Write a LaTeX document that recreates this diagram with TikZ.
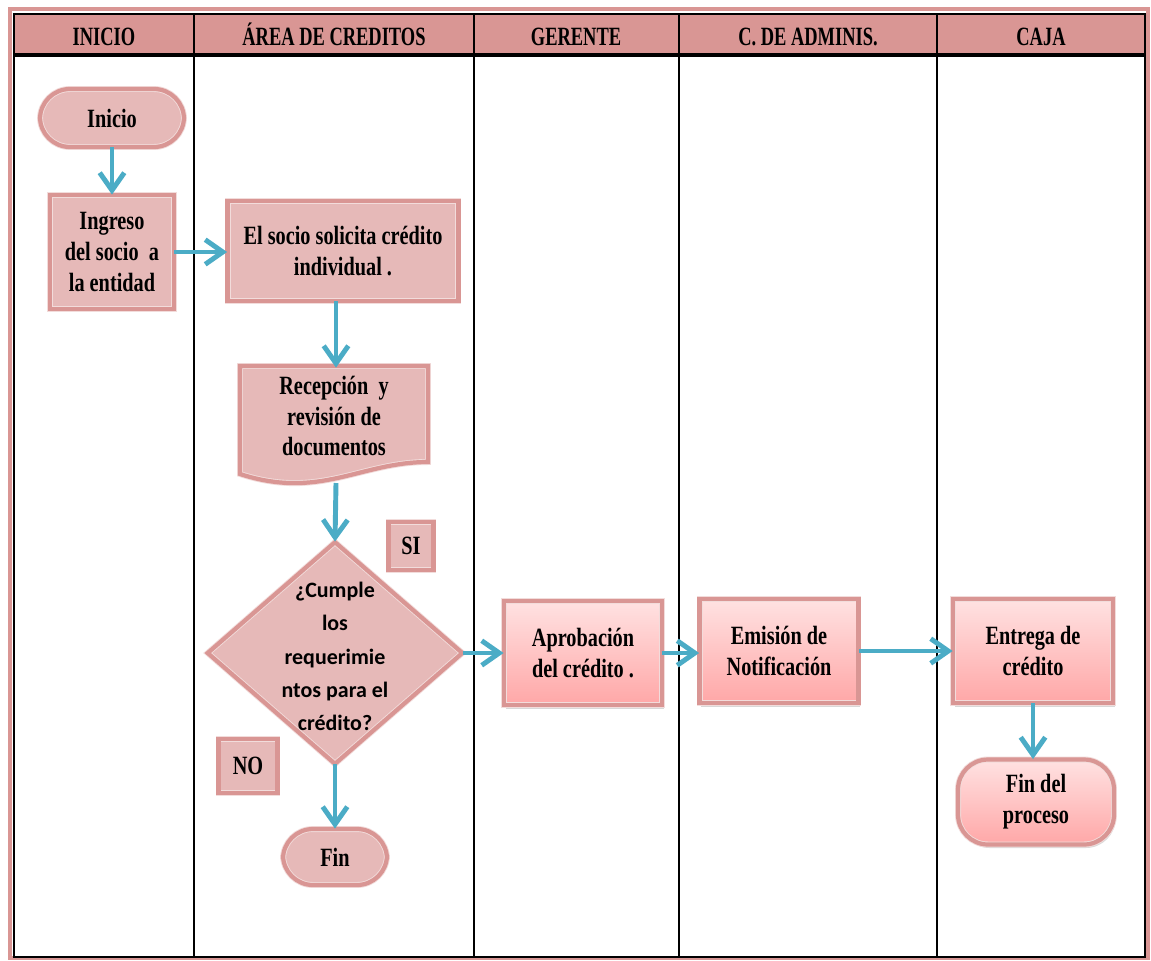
\documentclass[tikz,border=0pt]{standalone}
\usepackage{fontspec}
\setmainfont{Liberation Serif}[FakeStretch=0.77]
\newfontfamily\cabfont{Liberation Serif}[FakeStretch=0.7]
\newfontfamily\calibri{Carlito}
\usetikzlibrary{arrows.meta,shapes.geometric,shadows}

\definecolor{cabecera}{HTML}{D99694}
\definecolor{borde}{HTML}{D99694}
\definecolor{rosa}{HTML}{E6B9B8}
\definecolor{rosaclaro}{HTML}{F2DCDB}
\definecolor{gradsup}{HTML}{FFE2E2}
\definecolor{gradinf}{HTML}{FFA7A7}
\definecolor{flecha}{HTML}{4BACC6}

\tikzset{
  titulo/.style={anchor=base, font=\cabfont\bfseries\fontsize{15}{17}\selectfont},
  caja/.style={rectangle, fill=rosa, draw=rosaclaro, double=borde,
    double distance=2.4pt, line width=0.5pt, align=center, inner sep=1pt,
    font=\bfseries\fontsize{15}{17.6}\selectfont},
  terminal/.style={caja, rounded corners=0.6cm},
  cajagrad/.style={caja, top color=gradsup, bottom color=gradinf,
    drop shadow={opacity=0.3, shadow xshift=1pt, shadow yshift=-2pt}},
  flujo/.style={draw=flecha, line width=2.8pt,
    -{Straight Barb[length=10pt,width=14pt]}}
}

\begin{document}
\begin{tikzpicture}[x=0.02cm, y=-0.02cm]
  \useasboundingbox (0,0) rectangle (1151,960);
  \fill[white] (0,0) rectangle (1151,960);

  % marco y carriles
  \draw[cabecera, line width=2pt] (10,9) rectangle (1148,958);
  \fill[cabecera] (14,14) rectangle (1145,55);
  \draw[line width=1.6pt] (14,14) rectangle (1145,957);
  \draw[line width=2.6pt] (14,55) -- (1145,55);
  \draw[line width=1pt] (194,14) -- (194,957);
  \draw[line width=1pt] (474,14) -- (474,957);
  \draw[line width=1pt] (679,14) -- (679,957);
  \draw[line width=1pt] (937,14) -- (937,957);

  \node[titulo] (tinicio) at (104,45) {INICIO};
  \node[titulo] (tarea) at (334,45) {ÁREA DE CREDITOS};
  \node[titulo] (tgerente) at (576,45) {GERENTE};
  \node[titulo] (tadmin) at (808,45) {C. DE ADMINIS.};
  \node[titulo] (tcaja) at (1041,45) {CAJA};

  % nodos
  \node[terminal, minimum width=2.88cm, minimum height=1.16cm] (inicio) at (112,118) {Inicio};
  \node[caja, minimum width=2.48cm, minimum height=2.28cm] (ingreso) at (112,252)
    {Ingreso\\del socio~~a\\la entidad};
  \node[caja, minimum width=4.62cm, minimum height=2.0cm] (socio) at (343,251)
    {El socio solicita crédito\\individual .};

  \draw[caja] (240,366) -- (428,366) -- (428,462)
    .. controls (360,462) and (320,500) .. (240,474) -- cycle;
  \node[align=center, font=\bfseries\fontsize{15}{17.6}\selectfont,
    minimum width=3.76cm, minimum height=1.92cm] (recep) at (334,416)
    {Recepción~~y\\revisión de\\documentos};
  \coordinate (recepb) at (336,483);

  \node[caja, diamond, minimum width=5.1cm, minimum height=4.44cm,
    label={[font=\calibri\bfseries\fontsize{12.5}{19}\selectfont, align=center, yshift=-2pt]center:{¿Cumple\\los\\requerimie\\ntos para el\\crédito?}}]
    (cumple) at (335,653) {};
  \node[caja, minimum width=0.9cm, minimum height=0.96cm] (si) at (411,546) {SI};
  \node[caja, minimum width=1.18cm, minimum height=1.08cm] (no) at (248,766) {NO};
  \node[terminal, minimum width=2.08cm, minimum height=1.12cm] (fin) at (335,857) {Fin};

  \node[cajagrad, minimum width=3.16cm, minimum height=2.08cm] (aprob) at (583,653)
    {Aprobación\\del crédito .};
  \node[cajagrad, minimum width=3.18cm, minimum height=2.08cm] (emision) at (779,651)
    {Emisión de\\Notificación};
  \node[cajagrad, minimum width=3.2cm, minimum height=2.08cm] (entrega) at (1033,651)
    {Entrega de\\crédito};
  \node[cajagrad, rounded corners=0.6cm, minimum width=3.12cm, minimum height=1.7cm]
    (finp) at (1036,802) {Fin del\\proceso};

  % conectores
  \draw[flujo] (inicio) -- (ingreso);
  \draw[flujo] (ingreso.east) -- (ingreso.east -| socio.west);
  \draw[flujo] (socio.south -| recepb) -- (recep.north -| recepb);
  \draw[flujo] (recepb) -- (cumple.north);
  \draw[flujo] (cumple.east) -- (aprob.west);
  \draw[flujo] (cumple.south) -- (fin.north);
  \draw[flujo] (aprob.east) -- (aprob.east -| emision.west);
  \draw[flujo] (emision.east) -- (entrega.west);
  \draw[flujo] (entrega.south) -- (entrega.south |- finp.north);
\end{tikzpicture}
\end{document}
